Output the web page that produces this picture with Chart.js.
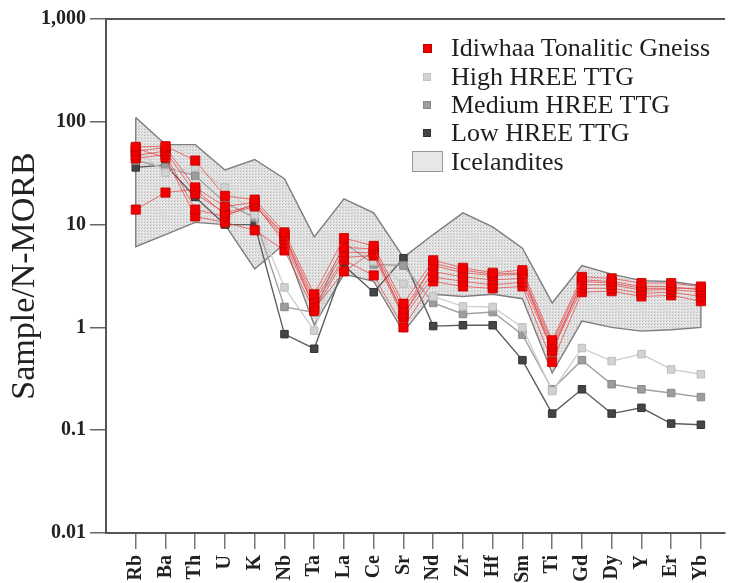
<!DOCTYPE html>
<html>
<head>
<meta charset="utf-8">
<script src="https://cdn.jsdelivr.net/npm/chart.js@4/dist/chart.umd.min.js"></script>
<style>
  html, body { margin: 0; padding: 0; background: #fff; overflow: hidden; }
  #wrap { position: relative; width: 732px; height: 583px; }
  #legend { position: absolute; left: 412px; top: 34px; font-family: "Liberation Serif", "Times New Roman", serif; font-size: 26px; color: #1e1e1e; }
  .row { display: flex; align-items: center; height: 28.4px; line-height: 28px; white-space: nowrap; }
  .sym { width: 39px; display: flex; justify-content: flex-start; align-items: center; }
  .sq { display: inline-block; box-sizing: border-box; }
</style>
</head>
<body>
<div id="wrap">
  <canvas id="c" width="732" height="583"></canvas>
  <div id="legend"></div>
</div>
<script>
// Trace elements, normalised to N-MORB
const elements = ['Rb','Ba','Th','U','K','Nb','Ta','La','Ce','Sr','Nd','Zr','Hf','Sm','Ti','Gd','Dy','Y','Er','Yb'];

// Idiwhaa Tonalitic Gneiss samples
const idiwhaa1 = [57, 58, 42, 19, 17.5, 8.4, 2.1, 7.4, 6.2, 1.7, 4.5, 3.8, 3.4, 3.6, 0.75, 3.1, 3.0, 2.7, 2.7, 2.5];
const idiwhaa2 = [52, 56, 23, 15, 16.5, 7.8, 1.9, 6.0, 5.8, 1.5, 4.0, 3.4, 3.2, 3.3, 0.7, 2.9, 2.8, 2.5, 2.5, 2.3];
const idiwhaa3 = [47, 52, 20, 13, 15.5, 7.2, 1.75, 5.4, 5.3, 1.35, 3.5, 3.1, 2.9, 3.0, 0.65, 2.6, 2.6, 2.3, 2.35, 2.2];
const idiwhaa4 = [44, 48, 14, 12, 16, 6.6, 1.6, 4.8, 5.0, 1.25, 3.1, 2.8, 2.6, 2.75, 0.6, 2.4, 2.4, 2.15, 2.2, 2.0];
const idiwhaa5 = [55, 45, 12, 10.5, 8.8, 5.6, 1.45, 4.5, 3.2, 1.0, 2.8, 2.5, 2.4, 2.5, 0.46, 2.2, 2.25, 2.0, 2.05, 1.8];
const idiwhaa6 = [14, 20.5, 22, 12.5, 15, 8.0, 1.5, 3.5, 5.5, 1.3, 4.2, 3.6, 3.3, 3.4, 0.58, 2.8, 2.7, 2.4, 2.4, 2.4];
const idiwhaaSamples = [idiwhaa1, idiwhaa2, idiwhaa3, idiwhaa4, idiwhaa5, idiwhaa6];

// Average TTG compositions
const highHreeTtg   = [53, 32, 36, 23, 12.5, 2.45, 0.93, 7.5, 4.4, 2.65, 2.0, 1.6, 1.58, 1.0, 0.24, 0.63, 0.47, 0.55, 0.39, 0.35];
const mediumHreeTtg = [42, 36, 30, 16.3, 11.7, 1.58, 1.4, 6.7, 4.1, 4.0, 1.73, 1.35, 1.41, 0.85, 0.25, 0.48, 0.28, 0.25, 0.23, 0.21];
const lowHreeTtg    = [36, 38, 18.6, 10, 10, 0.86, 0.62, 4.0, 2.2, 4.7, 1.03, 1.05, 1.05, 0.48, 0.145, 0.25, 0.145, 0.165, 0.116, 0.113];

// Icelandite field envelope
const icelanditeUpper = [110, 60, 60, 34, 43, 28, 7.6, 17.8, 13, 4.8, 8.0, 13, 9.5, 5.9, 1.73, 4.0, 3.3, 2.85, 2.8, 2.55];
const icelanditeLower = [6.1, 8.0, 10.5, 10, 3.7, 6.5, 1.05, 3.3, 2.8, 0.9, 2.1, 2.0, 2.1, 1.9, 0.36, 1.15, 1.0, 0.92, 0.95, 1.0];

// Axis ticks
const yTickValues = [0.01, 0.1, 1, 10, 100, 1000];
const yTickLabels = ['0.01', '0.1', '1', '10', '100', '1,000'];

const legendLabels = ['Idiwhaa Tonalitic Gneiss', 'High HREE TTG', 'Medium HREE TTG', 'Low HREE TTG', 'Icelandites'];

const toXY = arr => arr.map((v, i) => ({x: i, y: v}));

// stippled fill for the Icelandite field
function stipple() {
  const c = document.createElement('canvas');
  c.width = 3; c.height = 3;
  const g = c.getContext('2d');
  g.fillStyle = '#e3e3e3';
  g.fillRect(0, 0, 3, 3);
  g.fillStyle = '#b9b9b9';
  g.fillRect(0, 0, 1, 1);
  g.fillStyle = '#cdcdcd';
  g.fillRect(1, 2, 1, 1);
  g.fillStyle = '#eeeeee';
  g.fillRect(2, 1, 1, 1);
  return g.createPattern(c, 'repeat');
}
const fieldFill = stipple();

// closed outline of the field: upper edge forward, lower edge back, then close
const outline = toXY(icelanditeUpper)
  .concat(toXY(icelanditeLower).reverse())
  .concat([{x: 0, y: icelanditeUpper[0]}]);

const ttgStyle = (label, values, fillC, lineC, edgeC) => ({
  label, data: toXY(values),
  borderColor: lineC, borderWidth: 1.4,
  pointStyle: 'rect', pointRadius: 5.3,
  pointBackgroundColor: fillC, pointBorderColor: edgeC, pointBorderWidth: 1,
  fill: false, order: 2
});

const datasets = [
  { label: 'Icelandites', data: toXY(icelanditeUpper), borderWidth: 0, pointRadius: 0,
    backgroundColor: fieldFill, fill: '+1', order: 5 },
  { label: 'Icelandites lower', data: toXY(icelanditeLower), borderWidth: 0, pointRadius: 0,
    fill: false, order: 5 },
  { label: 'Icelandites outline', data: outline, borderColor: '#7e7e7e', borderWidth: 1.4,
    pointRadius: 0, fill: false, order: 4 },
  ttgStyle('High HREE TTG', highHreeTtg, '#d2d2d2', '#cfcfcf', '#bdbdbd'),
  ttgStyle('Medium HREE TTG', mediumHreeTtg, '#9c9c9c', '#a0a0a0', '#8a8a8a'),
  ttgStyle('Low HREE TTG', lowHreeTtg, '#454545', '#5e5e5e', '#333333')
];
idiwhaaSamples.forEach((s, k) => datasets.push({
  label: 'Idiwhaa Tonalitic Gneiss ' + (k + 1),
  data: toXY(s),
  borderColor: 'rgba(232, 60, 60, 0.7)', borderWidth: 1,
  pointStyle: 'rect', pointRadius: 6.5,
  pointBackgroundColor: '#f20000', pointBorderColor: '#c00000', pointBorderWidth: 0.8,
  fill: false, order: 1
}));

const serif = 'Liberation Serif';

new Chart(document.getElementById('c'), {
  type: 'line',
  data: { datasets },
  options: {
    responsive: false,
    animation: false,
    events: [],
    layout: { padding: { top: 19, right: 0, left: 0, bottom: 0 } },
    elements: { line: { tension: 0 } },
    plugins: { legend: { display: false }, tooltip: { enabled: false } },
    scales: {
      x: {
        type: 'linear', position: 'bottom', min: -1, max: 19.8,
        afterBuildTicks: s => { s.ticks = elements.map((_, i) => ({value: i})); },
        afterFit: s => { s.height = 50; },
        ticks: {
          autoSkip: false, minRotation: 90, maxRotation: 90, padding: 6,
          color: '#222', font: { family: serif, size: 20, weight: 'bold' },
          callback: v => elements[v] ?? ''
        },
        grid: { drawOnChartArea: false, drawTicks: true, tickLength: 16, tickColor: '#777', lineWidth: 1.5 },
        border: { display: true, color: '#555', width: 2 }
      },
      xTop: {
        type: 'linear', position: 'top', min: -1, max: 19.8,
        afterFit: s => { s.height = 0; },
        ticks: { display: false },
        grid: { display: false, drawTicks: false },
        border: { display: true, color: '#555', width: 2 }
      },
      y: {
        type: 'logarithmic', min: 0.01, max: 1000,
        afterBuildTicks: s => { s.ticks = yTickValues.map(v => ({value: v})); },
        afterFit: s => { s.width = 106; },
        ticks: {
          padding: 4, color: '#222', font: { family: serif, size: 20, weight: 'bold' },
          callback: v => { const k = yTickValues.indexOf(v); return k >= 0 ? yTickLabels[k] : ''; }
        },
        grid: { drawOnChartArea: false, drawTicks: true, tickLength: 16, tickColor: '#666', lineWidth: 1.5 },
        border: { display: true, color: '#555', width: 2 },
        title: { display: true, text: 'Sample/N-MORB', color: '#222',
                 font: { family: serif, size: 34 }, padding: { top: 5, bottom: 0 } }
      }
    }
  }
});

// legend
const legendSymbols = [
  {w: 9, h: 9, bg: '#f20000', bd: '#c00000', off: 11},
  {w: 8, h: 8, bg: '#d2d2d2', bd: '#c4c4c4', off: 11},
  {w: 8, h: 8, bg: '#9c9c9c', bd: '#8a8a8a', off: 11},
  {w: 8, h: 8, bg: '#454545', bd: '#333', off: 11},
  {w: 31, h: 21, bg: null, bd: '#999', off: 0}
];
const legendEl = document.getElementById('legend');
legendLabels.forEach((txt, i) => {
  const row = document.createElement('div');
  row.className = 'row';
  const sym = document.createElement('div');
  sym.className = 'sym';
  const sq = document.createElement('span');
  sq.className = 'sq';
  const s = legendSymbols[i];
  sq.style.width = s.w + 'px';
  sq.style.height = s.h + 'px';
  sq.style.marginLeft = s.off + 'px';
  sq.style.border = '1px solid ' + s.bd;
  if (s.bg) sq.style.background = s.bg;
  else sq.style.background = 'repeating-linear-gradient(0deg, #e3e3e3 0 1px, #ebebeb 1px 2px), #e6e6e6';
  sym.appendChild(sq);
  const label = document.createElement('span');
  label.textContent = txt;
  row.appendChild(sym);
  row.appendChild(label);
  legendEl.appendChild(row);
});
</script>
</body>
</html>
